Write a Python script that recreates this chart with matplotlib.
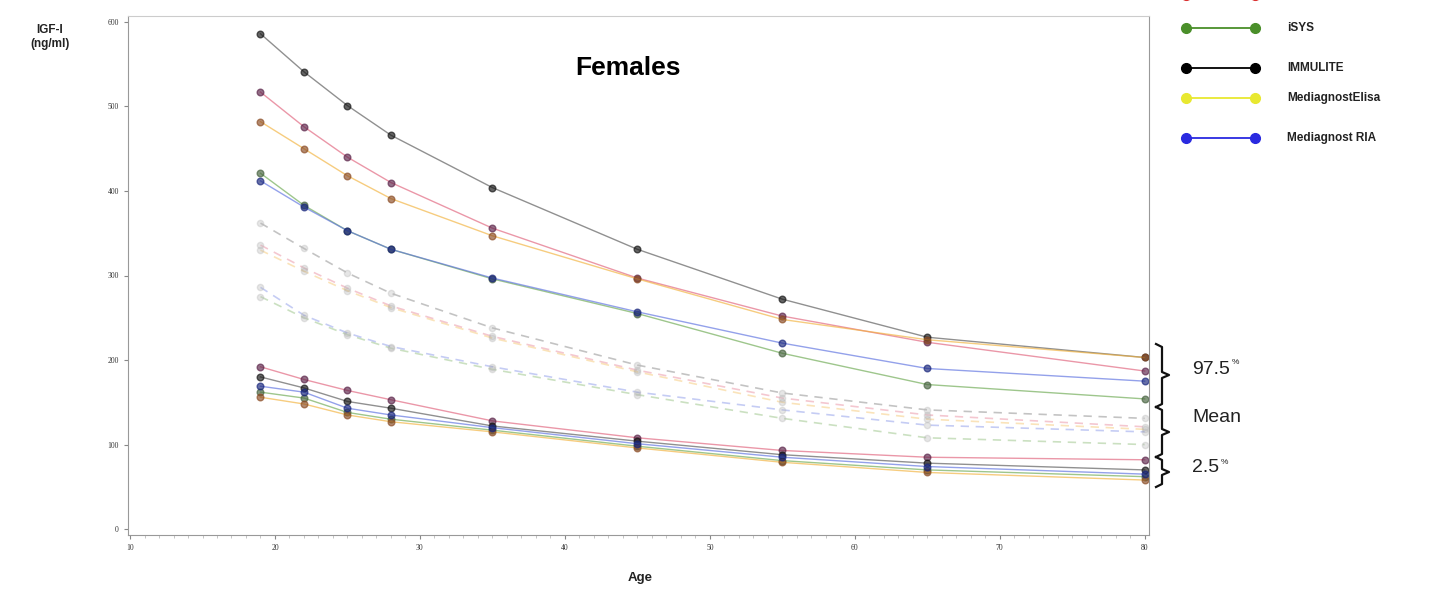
import matplotlib
matplotlib.use("Agg")
import matplotlib.pyplot as plt
from matplotlib.lines import Line2D
from matplotlib.ticker import MultipleLocator

# ages at which the reference curves are given
ages = [19, 22, 25, 28, 35, 45, 55, 65, 80]

# 97.5th percentile (solid)
upper_immulite = [586, 541, 501, 466, 404, 331, 272, 227, 203]
upper_liaison = [517, 476, 440, 410, 356, 297, 252, 221, 187]
upper_elisa = [482, 450, 418, 391, 347, 296, 248, 224, 203]
upper_ria = [412, 381, 353, 331, 297, 257, 220, 190, 175]
upper_isys = [421, 383, 353, 331, 296, 255, 208, 171, 154]

# mean (dashed)
mean_immulite = [362, 332, 303, 279, 238, 194, 161, 141, 131]
mean_liaison = [336, 309, 285, 264, 228, 188, 155, 135, 121]
mean_elisa = [330, 305, 282, 262, 226, 186, 150, 130, 118]
mean_ria = [286, 253, 232, 216, 192, 162, 141, 123, 115]
mean_isys = [275, 250, 230, 214, 189, 159, 131, 108, 100]

# 2.5th percentile (solid)
lower_liaison = [192, 177, 164, 153, 128, 108, 93, 85, 82]
lower_immulite = [180, 167, 151, 143, 122, 104, 88, 78, 70]
lower_ria = [169, 162, 143, 135, 120, 101, 85, 74, 65]
lower_isys = [162, 155, 138, 130, 117, 98, 81, 70, 62]
lower_elisa = [156, 148, 135, 127, 115, 96, 79, 67, 58]

assays = ["LIAISON XL", "iSYS", "IMMULITE", "MediagnostElisa", "Mediagnost RIA"]
line_colors = ["#e0607a", "#6aa84f", "#555555", "#f2b13a", "#5a6fe0"]
marker_colors = ["#5a2248", "#44603c", "#111111", "#8a4a22", "#16237a"]
legend_colors = ["#d93030", "#4a8f2a", "#000000", "#e8e830", "#2a2ae0"]

uppers = [upper_liaison, upper_isys, upper_immulite, upper_elisa, upper_ria]
means = [mean_liaison, mean_isys, mean_immulite, mean_elisa, mean_ria]
lowers = [lower_liaison, lower_isys, lower_immulite, lower_elisa, lower_ria]

W, H = 1448, 597
fig = plt.figure(figsize=(W / 100, H / 100), dpi=100)
ax = fig.add_axes([128 / W, 1 - 535 / H, (1149 - 128) / W, (535 - 16) / H])


def fx(px):
    return px / W


def fy(py):
    return 1 - py / H


for i in range(len(assays)):
    # mean curves: pale dashed
    ax.plot(ages, means[i], linestyle=(0, (5, 4)), color=line_colors[i], alpha=0.35, lw=1.2,
            marker="o", ms=4.5, mfc="#b8b8b8", mec="#b8b8b8")
    # percentile curves: thin solid with dark dots
    ax.plot(ages, uppers[i], color=line_colors[i], alpha=0.65, lw=1.0,
            marker="o", ms=4.8, mfc=marker_colors[i], mec=marker_colors[i])
    ax.plot(ages, lowers[i], color=line_colors[i], alpha=0.65, lw=1.0,
            marker="o", ms=4.8, mfc=marker_colors[i], mec=marker_colors[i])

ax.set_xlim(9.86, 80.3)
ax.set_ylim(-7, 607)
ax.set_xticks(range(10, 81, 10))
ax.set_yticks(range(0, 601, 100))
ax.xaxis.set_minor_locator(MultipleLocator(1))
ax.tick_params(axis="both", labelsize=5.5, colors="#888888", labelcolor="#333333", length=3, width=0.8)
ax.tick_params(axis="x", which="minor", length=2, colors="#bbbbbb")
for lab in ax.get_xticklabels() + ax.get_yticklabels():
    lab.set_family("Liberation Serif")
for side in ["left", "bottom", "right"]:
    ax.spines[side].set_color("#999999")
ax.spines["top"].set_color("#cccccc")

ax.text(0.49, 0.90, "Females", transform=ax.transAxes, ha="center", va="center",
        fontsize=19, fontweight="bold", family="Liberation Sans")
fig.text(fx(50), fy(37), "IGF-I\n(ng/ml)", ha="center", va="center", fontsize=8.5,
         fontweight="bold", family="Liberation Sans", linespacing=1.2, color="#222222")
fig.text(fx(640), fy(578), "Age", ha="center", va="center", fontsize=9.5,
         fontweight="bold", family="Liberation Sans", color="#222222")

# legend (first entry runs off the top edge, as in the original)
leg_y = [-5, 28, 68, 98, 138]
for name, col, y in zip(assays, legend_colors, leg_y):
    fig.add_artist(Line2D([fx(1186), fx(1255)], [fy(y), fy(y)], color=col, lw=1.3,
                          marker="o", ms=7, mfc=col, mec=col))
    fig.text(fx(1287), fy(y), name, ha="left", va="center", fontsize=8.5,
             fontweight="bold", family="Liberation Sans", color="#222222")


def brace(top, bot, tip):
    xs = [1156, 1162, 1162, 1169, 1162, 1162, 1156]
    ys = [top, top + 3, tip - 3, tip, tip + 3, bot - 3, bot]
    fig.add_artist(Line2D([fx(x) for x in xs], [fy(y) for y in ys], color="#111111", lw=1.6))


brace(344, 407, 375)
brace(407, 457, 432)
brace(457, 487, 472)

for label, y in [("97.5", 369), ("Mean", 418), ("2.5", 468)]:
    fig.text(fx(1192), fy(y), label, ha="left", va="center", fontsize=14,
             family="Liberation Sans", color="#222222")
    if label != "Mean":
        w = 40 if label == "97.5" else 29
        fig.text(fx(1192 + w), fy(y - 6), "%", ha="left", va="center", fontsize=6,
                 family="Liberation Sans", color="#222222")

fig.savefig("out.png", dpi=100)
